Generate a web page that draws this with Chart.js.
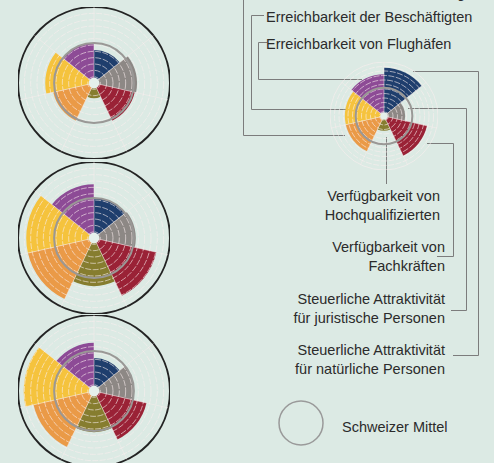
<!DOCTYPE html>
<html>
<head>
<meta charset="utf-8">
<script src="https://cdn.jsdelivr.net/npm/chart.js@4.4.1/dist/chart.umd.min.js"></script>
<style>
  body { margin: 0; width: 494px; height: 463px; overflow: hidden; position: relative;
         background: #dceae4; font-family: "Liberation Sans", Arial, sans-serif; color: #2b2b2b; }
  canvas, svg, .lbl { position: absolute; }
  .lbl { font-size: 14.5px; line-height: 19px; white-space: nowrap; }
  .r { text-align: right; }
</style>
</head>
<body>
<svg width="494" height="463" style="left:0;top:0" fill="none" stroke="#7c7c7c" stroke-width="1">
  <polyline points="243.5,0 243.5,135.5 345,135.5" />
  <polyline points="264,15.5 251.5,15.5 251.5,109.5 349,109.5" />
  <polyline points="267,42.5 258.5,42.5 258.5,79.5 362,79.5" />
  <polyline points="413,71.5 478.5,71.5 478.5,355.5 453,355.5" />
  <polyline points="408,108.5 466.5,108.5 466.5,310.5 451,310.5" />
  <polyline points="427,143.5 453.5,143.5 453.5,256.5 437,256.5" />
  <polyline points="386.5,137 386.5,184" />
  <circle cx="301" cy="423" r="22" stroke="#9a9a9a" stroke-width="1.5" />
</svg>

<canvas id="c1" width="152" height="152" style="left:18px;top:7px"></canvas>
<canvas id="c2" width="152" height="152" style="left:18px;top:162px"></canvas>
<canvas id="c3" width="152" height="152" style="left:18px;top:315px"></canvas>
<canvas id="c4" width="108" height="108" style="left:330px;top:62px"></canvas>

<div class="lbl" style="left:266px;top:-16px">Erreichbarkeit der Bevölkerung</div>
<div class="lbl" style="left:266px;top:8px">Erreichbarkeit der Beschäftigten</div>
<div class="lbl" style="left:266px;top:35px">Erreichbarkeit von Flughäfen</div>
<div class="lbl r" style="right:54px;top:187px">Verfügbarkeit von<br>Hochqualifizierten</div>
<div class="lbl r" style="right:49px;top:238px">Verfügbarkeit von<br>Fachkräften</div>
<div class="lbl r" style="right:49px;top:290px">Steuerliche Attraktivität<br>für juristische Personen</div>
<div class="lbl r" style="right:49px;top:341px">Steuerliche Attraktivität<br>für natürliche Personen</div>
<div class="lbl" style="left:342px;top:418px">Schweizer Mittel</div>

<script>
// categories, clockwise from the top
const categories = [
  "Steuerliche Attraktivität für natürliche Personen",
  "Steuerliche Attraktivität für juristische Personen",
  "Verfügbarkeit von Fachkräften",
  "Verfügbarkeit von Hochqualifizierten",
  "Erreichbarkeit der Bevölkerung",
  "Erreichbarkeit der Beschäftigten",
  "Erreichbarkeit von Flughäfen"
];
const colors = ["#1f3e6d", "#8d8885", "#9a2236", "#867d2f", "#ea9a47", "#f5c33d", "#8d4b96"];

// values per region (index)
const region1 = [5.2, 6.8, 6.6, 2.4, 6.6, 7.7, 6.3];
const region2 = [6.3, 6.6, 10.1, 7.6, 10.7, 10.7, 8.5];
const region3 = [5.2, 6.3, 8.5, 6.5, 9.8, 11.1, 7.6];
const legendSample = [10.7, 4.7, 9.8, 3.3, 8.7, 8.7, 9.3];

const schweizerMittel = 6.3;
const scaleMax = 12;
const scaleStep = 1;
const holeValue = 0.85;

// hole in the middle + ring for the Swiss average
const overlay = {
  id: "overlay",
  afterDraw(chart) {
    const r = chart.scales.r;
    const ctx = chart.ctx;
    ctx.save();
    ctx.beginPath();
    ctx.arc(r.xCenter, r.yCenter, r.getDistanceFromCenterForValue(holeValue), 0, Math.PI * 2);
    ctx.fillStyle = "#e5f0eb";
    ctx.fill();
    ctx.beginPath();
    ctx.arc(r.xCenter, r.yCenter, r.getDistanceFromCenterForValue(schweizerMittel), 0, Math.PI * 2);
    ctx.strokeStyle = "#9a9896";
    ctx.lineWidth = 2;
    ctx.stroke();
    ctx.restore();
  }
};

const makeChart = (id, values, frame) => {
  new Chart(document.getElementById(id), {
    type: "polarArea",
    data: {
      labels: categories,
      datasets: [{ data: values, backgroundColor: colors, borderWidth: 0 }]
    },
    options: {
      responsive: false,
      animation: false,
      devicePixelRatio: 1,
      layout: { padding: 0 },
      plugins: { legend: { display: false }, tooltip: { enabled: false } },
      scales: {
        r: {
          min: 0,
          max: scaleMax,
          ticks: { display: false, stepSize: scaleStep },
          pointLabels: { display: false },
          angleLines: { display: true, color: "rgba(250,238,238,0.5)", lineWidth: 1 },
          grid: {
            z: 1,
            circular: true,
            color: (c) => (frame && c.tick && c.tick.value === scaleMax ? "#232323" : "rgba(250,238,238,0.6)"),
            lineWidth: (c) => (frame && c.tick && c.tick.value === scaleMax ? 2 : 1)
          },
          border: {
            dash: (c) => (c.tick && c.tick.value === scaleMax ? [] : [6, 1.5])
          }
        }
      }
    },
    plugins: [overlay]
  });
};

makeChart("c1", region1, true);
makeChart("c2", region2, true);
makeChart("c3", region3, true);
makeChart("c4", legendSample, false);
</script>
</body>
</html>
